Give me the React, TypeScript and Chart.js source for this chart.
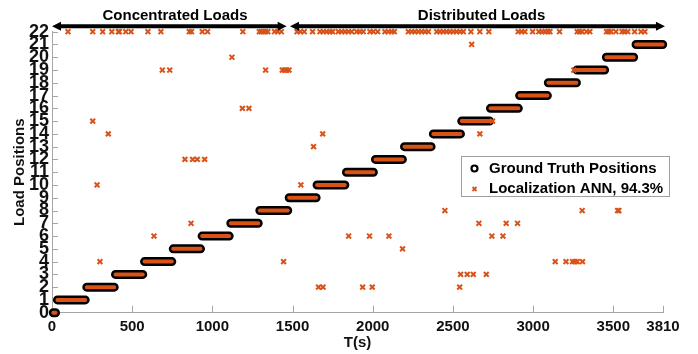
import React, { useEffect, useRef } from "react";
import { Chart, registerables } from "chart.js";

Chart.register(...registerables);

// ---------- data ----------
const LEVELS = [0, 1, 2, 3, 4, 5, 6, 7, 8, 9, 10, 11, 12, 13, 14, 15, 16, 17, 18, 19, 20, 21];
const SEG_START = [8, 34, 217, 396, 577, 756, 936, 1115, 1296, 1479, 1653, 1836, 2017, 2198, 2378, 2555, 2734, 2916, 3095, 3274, 3457, 3642];
const SEG_END = [22, 207, 388, 566, 747, 926, 1105, 1286, 1470, 1647, 1826, 2004, 2185, 2364, 2547, 2729, 2908, 3089, 3270, 3446, 3627, 3808];

// ANN predictions reported at position 22
const ANN_TOP_LEVEL = 22;
const ANN_TOP_T = [
  100, 254, 316, 373, 414, 420, 460, 493, 598, 679, 856, 870, 937, 970, 1190, 1293, 1305, 1318, 1332, 1346, 1388, 1408, 1430,
  1528, 1548, 1573, 1625, 1671, 1692, 1713, 1733, 1750, 1785, 1806, 1827, 1848, 1869, 1900, 1920, 1941, 1983, 2004, 2031,
  2076, 2097, 2118, 2135, 2222, 2243, 2263, 2284, 2305, 2326, 2347, 2399, 2419, 2440, 2461, 2481, 2502, 2523, 2544, 2565,
  2612, 2668, 2724, 2907, 2928, 2949, 2997, 3036, 3055, 3075, 3092, 3105, 3165, 3275, 3290, 3305, 3333, 3354, 3458, 3472,
  3486, 3516, 3555, 3570, 3590, 3633, 3673, 3697,
];
// other misclassified ANN predictions
const ANN_OTHER_T = [
  2617, 1122,
  688, 734, 1332, 1436, 1450, 1464, 1478, 3254,
  1187, 1228,
  254, 2747,
  351, 1688, 2668,
  1631,
  829, 877, 906, 952,
  281, 1552,
  2450, 3306, 3527, 3535,
  867, 2662, 2832, 2903,
  636, 1850, 1980, 2101, 2743, 2812,
  2186,
  299, 1444, 3138, 3205, 3246, 3261, 3275, 3308,
  2548, 2589, 2627, 2708,
  1662, 1690, 1937, 1997, 2542,
];
const ANN_OTHER_Y = [
  21, 20,
  19, 19, 19, 19, 19, 19, 19, 19,
  16, 16,
  15, 15,
  14, 14, 14,
  13,
  12, 12, 12, 12,
  10, 10,
  8, 8, 8, 8,
  7, 7, 7, 7,
  6, 6, 6, 6, 6, 6,
  5,
  4, 4, 4, 4, 4, 4, 4, 4,
  3, 3, 3, 3,
  2, 2, 2, 2, 2,
];

const X_TICKS = [0, 500, 1000, 1500, 2000, 2500, 3000, 3500, 3810];
const Y_TICKS = [0, 1, 2, 3, 4, 5, 6, 7, 8, 9, 10, 11, 12, 13, 14, 15, 16, 17, 18, 19, 20, 21, 22];

// annotation arrows and labels (data coordinates)
const ARROW_RANGES = [[0, 1463], [1484, 3822]];
const ARROW_Y = 22.42;
const REGION_LABELS = ["Concentrated Loads", "Distributed Loads"];
const REGION_LABEL_T = [767, 2679];
const REGION_LABEL_Y = 23.27;

const LEGEND_LABELS = ["Ground Truth Positions", "Localization ANN, 94.3%"];

// ---------- style ----------
const ORANGE = "#D95319";
const AXIS_COLOR = "#a6a6a6";
const FONT = "'Liberation Sans', Arial, sans-serif";

export default function App() {
  const ref = useRef<HTMLCanvasElement | null>(null);

  useEffect(() => {
    const canvas = ref.current;
    if (!canvas) return;

    const gtData: any[] = [];
    SEG_START.forEach((s, i) => {
      gtData.push({ x: s, y: LEVELS[i] });
      gtData.push({ x: SEG_END[i], y: LEVELS[i] });
      gtData.push({ x: SEG_END[i], y: null });
    });

    const annData: any[] = ANN_TOP_T.map((t) => ({ x: t, y: ANN_TOP_LEVEL })).concat(
      ANN_OTHER_T.map((t, i) => ({ x: t, y: ANN_OTHER_Y[i] }))
    );

    const inwardTicks = {
      id: "inwardTicks",
      beforeDatasetsDraw(chart: any) {
        const { ctx, chartArea, scales } = chart;
        ctx.save();
        ctx.strokeStyle = AXIS_COLOR;
        ctx.lineWidth = 1;
        ctx.beginPath();
        scales.x.ticks.forEach((t: any) => {
          const px = Math.round(scales.x.getPixelForValue(t.value)) + 0.5;
          ctx.moveTo(px, chartArea.bottom);
          ctx.lineTo(px, chartArea.bottom - 7);
        });
        scales.y.ticks.forEach((t: any) => {
          const py = Math.round(scales.y.getPixelForValue(t.value)) + 0.5;
          ctx.moveTo(chartArea.left, py);
          ctx.lineTo(chartArea.left + 6, py);
        });
        ctx.stroke();
        ctx.restore();
      },
    };

    const annotations = {
      id: "annotations",
      afterDraw(chart: any) {
        const { ctx, scales } = chart;
        const xs = scales.x;
        const ys = scales.y;
        ctx.save();
        const ay = ys.getPixelForValue(ARROW_Y);
        const head = 9;
        const hw = 4.5;
        ctx.fillStyle = "#000";
        ctx.strokeStyle = "#000";
        ARROW_RANGES.forEach(([a, b]) => {
          const x1 = xs.getPixelForValue(a);
          const x2 = xs.getPixelForValue(b);
          ctx.lineWidth = 4;
          ctx.beginPath();
          ctx.moveTo(x1 + head - 1, ay);
          ctx.lineTo(x2 - head + 1, ay);
          ctx.stroke();
          ctx.beginPath();
          ctx.moveTo(x1, ay);
          ctx.lineTo(x1 + head, ay - hw);
          ctx.lineTo(x1 + head, ay + hw);
          ctx.closePath();
          ctx.fill();
          ctx.beginPath();
          ctx.moveTo(x2, ay);
          ctx.lineTo(x2 - head, ay - hw);
          ctx.lineTo(x2 - head, ay + hw);
          ctx.closePath();
          ctx.fill();
        });
        ctx.font = `bold 15px ${FONT}`;
        ctx.textAlign = "center";
        ctx.textBaseline = "middle";
        const ty = ys.getPixelForValue(REGION_LABEL_Y);
        REGION_LABELS.forEach((txt, i) => {
          ctx.fillText(txt, xs.getPixelForValue(REGION_LABEL_T[i]), ty);
        });

        // legend
        const bx = 461.5, by = 156.5, bw = 208, bh = 40;
        ctx.fillStyle = "#fff";
        ctx.fillRect(bx, by, bw, bh);
        ctx.strokeStyle = "#a0a0a0";
        ctx.lineWidth = 1;
        ctx.strokeRect(bx, by, bw, bh);
        const mx = 474.5;
        const r1 = 168.5, r2 = 189;
        ctx.beginPath();
        ctx.arc(mx, r1, 3, 0, Math.PI * 2);
        ctx.fillStyle = "#fff";
        ctx.fill();
        ctx.strokeStyle = "#000";
        ctx.lineWidth = 2.2;
        ctx.stroke();
        ctx.strokeStyle = ORANGE;
        ctx.lineWidth = 1.8;
        ctx.beginPath();
        ctx.moveTo(mx - 2, r2 - 2);
        ctx.lineTo(mx + 2, r2 + 2);
        ctx.moveTo(mx + 2, r2 - 2);
        ctx.lineTo(mx - 2, r2 + 2);
        ctx.stroke();
        ctx.fillStyle = "#000";
        ctx.font = `bold 15px ${FONT}`;
        ctx.textAlign = "left";
        ctx.textBaseline = "middle";
        ctx.fillText(LEGEND_LABELS[0], 489, r1);
        ctx.fillText(LEGEND_LABELS[1], 489, r2);
        ctx.restore();
      },
    };

    const chart = new Chart(canvas, {
      type: "scatter",
      data: {
        datasets: [
          {
            label: LEGEND_LABELS[1],
            data: annData,
            pointStyle: "crossRot",
            pointRadius: 3.4,
            pointBorderWidth: 2,
            borderColor: ORANGE,
            backgroundColor: ORANGE,
            showLine: false,
            clip: false,
            order: 0,
          } as any,
          {
            label: "gt-fill",
            data: gtData,
            showLine: true,
            spanGaps: false,
            pointRadius: 0,
            borderColor: ORANGE,
            borderWidth: 4,
            borderCapStyle: "round",
            borderJoinStyle: "round",
            clip: false,
            order: 1,
          } as any,
          {
            label: LEGEND_LABELS[0],
            data: gtData,
            showLine: true,
            spanGaps: false,
            pointRadius: 0,
            borderColor: "#000",
            borderWidth: 9,
            borderCapStyle: "round",
            borderJoinStyle: "round",
            clip: false,
            order: 2,
          } as any,
        ],
      },
      options: {
        responsive: false,
        animation: false,
        events: [],
        layout: { padding: { top: 31.7, right: 35, left: 0, bottom: 0 } },
        plugins: {
          legend: { display: false },
          tooltip: { enabled: false },
        },
        scales: {
          x: {
            type: "linear",
            min: 0,
            max: 3810,
            afterBuildTicks: (scale: any) => {
              scale.ticks = X_TICKS.map((v) => ({ value: v }));
            },
            afterFit: (scale: any) => {
              scale.height = 41.3;
            },
            grid: { display: false, drawTicks: false },
            border: { display: true, color: AXIS_COLOR, width: 1 },
            ticks: {
              autoSkip: false,
              maxRotation: 0,
              padding: 5,
              color: "#111",
              font: { family: FONT, size: 15, weight: "bold" },
              callback: (v: any) => String(v),
            },
            title: {
              display: true,
              text: "T(s)",
              color: "#111",
              font: { family: FONT, size: 15, weight: "bold" },
              padding: { top: 0, bottom: 2 },
            },
          },
          y: {
            type: "linear",
            min: 0,
            max: 22,
            afterBuildTicks: (scale: any) => {
              scale.ticks = Y_TICKS.map((v) => ({ value: v }));
            },
            afterFit: (scale: any) => {
              scale.width = 52;
            },
            grid: { display: false, drawTicks: false },
            border: { display: true, color: AXIS_COLOR, width: 1 },
            ticks: {
              autoSkip: false,
              padding: 3,
              color: "#111",
              font: { family: FONT, size: 18, weight: "bold" },
              callback: (v: any) => String(v),
            },
            title: {
              display: true,
              text: "Load Positions",
              color: "#111",
              font: { family: FONT, size: 15, weight: "bold" },
              padding: { top: 11, bottom: 0 },
            },
          },
        },
      } as any,
      plugins: [inwardTicks, annotations],
    });

    return () => chart.destroy();
  }, []);

  return (
    <div style={{ position: "fixed", left: 0, top: 0, width: 698, height: 354, background: "#fff" }}>
      <canvas ref={ref} width={698} height={354} style={{ display: "block" }} />
    </div>
  );
}
